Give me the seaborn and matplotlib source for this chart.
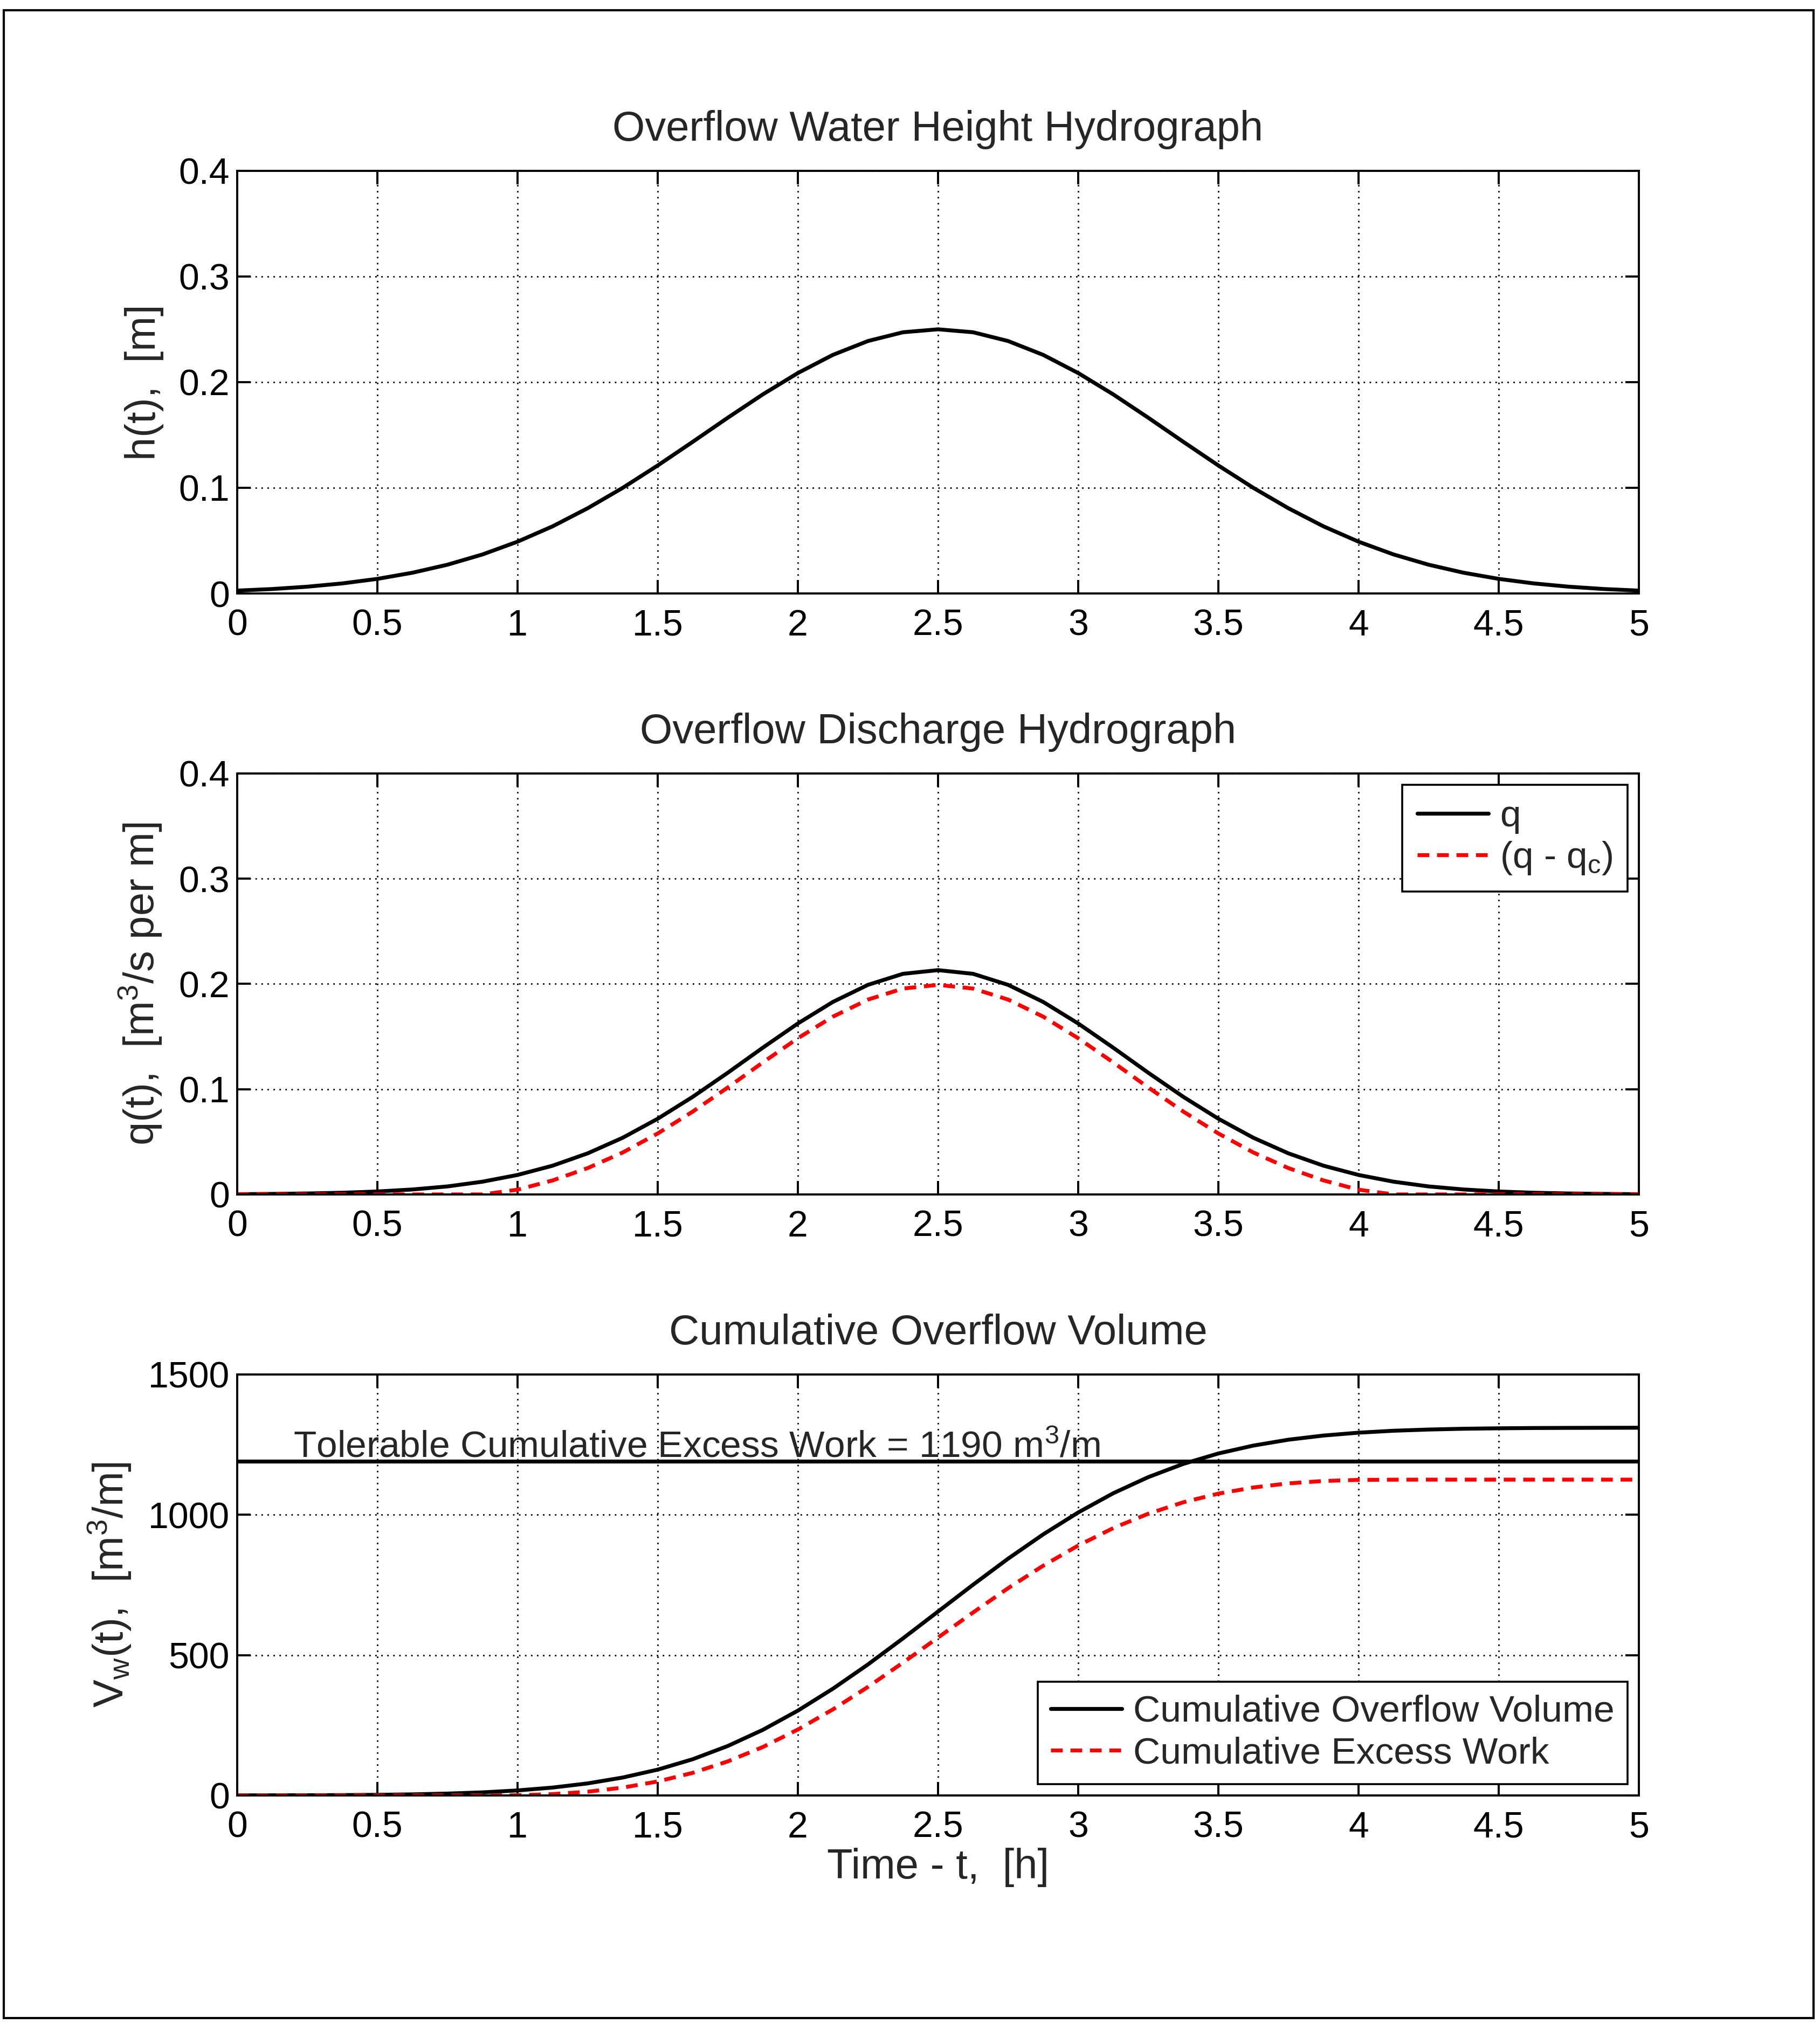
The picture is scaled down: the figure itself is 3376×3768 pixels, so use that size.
import matplotlib
matplotlib.use("Agg")
import matplotlib.pyplot as plt
import seaborn as sns
from matplotlib.patches import Rectangle
from matplotlib.ticker import FormatStrFormatter

# time axis [h]
t = [0.0, 0.125, 0.25, 0.375, 0.5, 0.625, 0.75, 0.875, 1.0, 1.125, 1.25, 1.375,
     1.5, 1.625, 1.75, 1.875, 2.0, 2.125, 2.25, 2.375, 2.5, 2.625, 2.75, 2.875,
     3.0, 3.125, 3.25, 3.375, 3.5, 3.625, 3.75, 3.875, 4.0, 4.125, 4.25, 4.375,
     4.5, 4.625, 4.75, 4.875, 5.0]

# overflow water height h(t) [m]
h = [0.0027, 0.0042, 0.0064, 0.0095, 0.0138, 0.0196, 0.0272, 0.0369, 0.0490,
     0.0635, 0.0806, 0.0999, 0.1211, 0.1435, 0.1663, 0.1884, 0.2086, 0.2258,
     0.2389, 0.2472, 0.2500, 0.2472, 0.2389, 0.2258, 0.2086, 0.1884, 0.1663,
     0.1435, 0.1211, 0.0999, 0.0806, 0.0635, 0.0490, 0.0369, 0.0272, 0.0196,
     0.0138, 0.0095, 0.0064, 0.0042, 0.0027]

# discharge q(t) [m3/s per m]
q = [0.0002, 0.0005, 0.0009, 0.0016, 0.0028, 0.0047, 0.0076, 0.0121, 0.0185,
     0.0273, 0.0390, 0.0538, 0.0719, 0.0927, 0.1156, 0.1394, 0.1624, 0.1829,
     0.1991, 0.2096, 0.2131, 0.2096, 0.1991, 0.1829, 0.1624, 0.1394, 0.1156,
     0.0927, 0.0719, 0.0538, 0.0390, 0.0273, 0.0185, 0.0121, 0.0076, 0.0047,
     0.0028, 0.0016, 0.0009, 0.0005, 0.0002]

# excess discharge (q - qc)
q_excess = [0, 0, 0, 0, 0, 0, 0, 0, 0.0045, 0.0133, 0.0250, 0.0398, 0.0579,
            0.0787, 0.1016, 0.1254, 0.1484, 0.1689, 0.1851, 0.1956, 0.1991,
            0.1956, 0.1851, 0.1689, 0.1484, 0.1254, 0.1016, 0.0787, 0.0579,
            0.0398, 0.0250, 0.0133, 0.0045, 0, 0, 0, 0, 0, 0, 0, 0]

# cumulative overflow volume [m3/m]
vol = [0.15, 0.3, 0.6, 1.1, 2.1, 3.7, 6.5, 10.8, 17.7, 27.9, 42.7, 63.6, 91.8,
       128.9, 176.0, 233.5, 302.0, 380.1, 466.5, 559.4, 655.0, 750.6, 843.5,
       929.9, 1008.0, 1076.5, 1134.0, 1181.1, 1218.2, 1246.4, 1267.3, 1282.1,
       1292.3, 1299.2, 1303.5, 1306.3, 1307.9, 1308.9, 1309.4, 1309.7, 1309.9]

# cumulative excess work [m3/m]
work = [0, 0, 0, 0, 0, 0, 0, 0, 0.7, 4.6, 13.1, 27.7, 49.6, 80.4, 121.2, 172.4,
        234.6, 306.4, 386.5, 473.1, 562.4, 651.7, 738.3, 818.4, 890.2, 952.4,
        1003.6, 1044.4, 1075.2, 1097.1, 1111.7, 1120.2, 1124.1, 1124.8, 1125,
        1125, 1125, 1125, 1125, 1125, 1125]

tolerable = 1190

sns.set_style("ticks")
plt.rcParams["font.family"] = ["Liberation Sans", "DejaVu Sans"]
plt.rcParams["mathtext.default"] = "regular"
plt.rcParams["axes.linewidth"] = 1.4

LW = 2.6
RED_DASH = (0, (3.0, 2.0))
TICK_FS = 24.5
LABEL_FS = 28

fig = plt.figure(figsize=(16.88, 18.84), dpi=200)
ax1 = fig.add_axes([0.1303, 0.7078, 0.7702, 0.2081])
ax2 = fig.add_axes([0.1303, 0.4119, 0.7702, 0.2073])
ax3 = fig.add_axes([0.1303, 0.1160, 0.7702, 0.2073])

# outer frame
fig.add_artist(Rectangle((0.002, 0.0064), 0.9944, 0.9886, transform=fig.transFigure,
                         fill=False, edgecolor="black", linewidth=1.5))


def style_axes(ax, yticks, ymax, yfmt):
    ax.set_xlim(0, 5)
    ax.set_ylim(0, ymax)
    ax.set_xticks([0, 0.5, 1, 1.5, 2, 2.5, 3, 3.5, 4, 4.5, 5])
    ax.set_yticks(yticks)
    ax.xaxis.set_major_formatter(FormatStrFormatter("%g"))
    ax.yaxis.set_major_formatter(FormatStrFormatter(yfmt))
    ax.tick_params(direction="in", top=True, right=True, length=9, width=1.4,
                   labelsize=TICK_FS, colors="black")
    ax.tick_params(axis="x", pad=10)
    ax.tick_params(axis="y", pad=5)
    ax.grid(True, color="black", linewidth=1.0, linestyle=(0, (1, 3)))
    ax.set_axisbelow(True)
    for s in ax.spines.values():
        s.set_visible(True)
        s.set_color("black")
        s.set_linewidth(1.4)
    ax.set_xlabel("")


# height hydrograph
sns.lineplot(x=t, y=h, ax=ax1, color="black", linewidth=LW)
style_axes(ax1, [0, 0.1, 0.2, 0.3, 0.4], 0.4, "%g")
ax1.set_title("Overflow Water Height Hydrograph", fontsize=LABEL_FS, pad=20)
ax1.set_ylabel("h(t),  [m]", fontsize=LABEL_FS, labelpad=10)

# discharge hydrograph
sns.lineplot(x=t, y=q, ax=ax2, color="black", linewidth=LW, label="q")
sns.lineplot(x=t, y=q_excess, ax=ax2, color="red", linewidth=LW,
             linestyle=RED_DASH, label="(q - q$_c$)")
style_axes(ax2, [0, 0.1, 0.2, 0.3, 0.4], 0.4, "%g")
ax2.set_title("Overflow Discharge Hydrograph", fontsize=LABEL_FS, pad=20)
ax2.set_ylabel("q(t),  [m$^3$/s per m]", fontsize=LABEL_FS, labelpad=10)
leg = ax2.legend(loc="upper right", fontsize=25, frameon=True, fancybox=False,
                 edgecolor="black", framealpha=1, handlelength=1.9,
                 handletextpad=0.3, borderpad=0.4, labelspacing=0.15,
                 borderaxespad=0.3)
leg.get_frame().set_linewidth(1.3)

# cumulative volume
sns.lineplot(x=t, y=vol, ax=ax3, color="black", linewidth=LW,
             label="Cumulative Overflow Volume")
sns.lineplot(x=t, y=work, ax=ax3, color="red", linewidth=LW,
             linestyle=RED_DASH, label="Cumulative Excess Work")
ax3.axhline(tolerable, color="black", linewidth=LW)
ax3.text(0.2, tolerable + 15,
         "Tolerable Cumulative Excess Work = %d m$^3$/m" % tolerable,
         fontsize=25, va="baseline", ha="left")
style_axes(ax3, [0, 500, 1000, 1500], 1500, "%d")
ax3.set_title("Cumulative Overflow Volume", fontsize=LABEL_FS, pad=20)
ax3.set_ylabel("V$_w$(t),  [m$^3$/m]", fontsize=LABEL_FS, labelpad=10)
ax3.set_xlabel("Time - t,  [h]", fontsize=LABEL_FS, labelpad=2)
leg = ax3.legend(loc="lower right", fontsize=25, frameon=True, fancybox=False,
                 edgecolor="black", framealpha=1, handlelength=1.9,
                 handletextpad=0.3, borderpad=0.35, labelspacing=0.2,
                 borderaxespad=0.3)
leg.get_frame().set_linewidth(1.3)

plt.savefig("out.png", dpi=200, facecolor="white")
plt.close()
